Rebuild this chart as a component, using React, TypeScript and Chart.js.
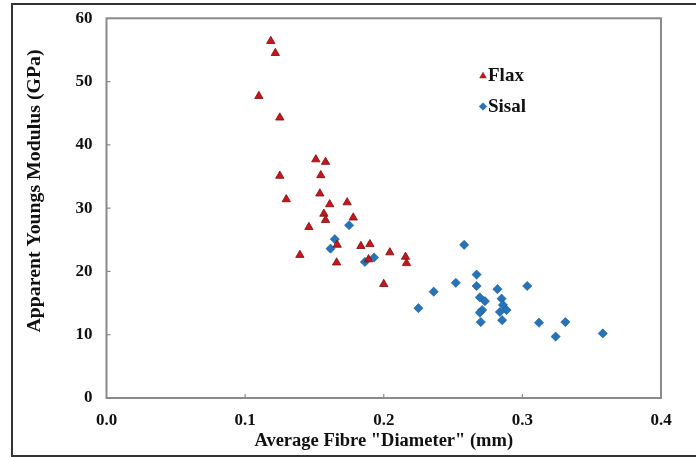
import React, { useEffect, useRef } from 'react';
import { Chart, registerables } from 'chart.js';
import { drawPoint } from 'chart.js/helpers';

Chart.register(...registerables);

// Flax fibres: diameter (mm) and apparent Young's modulus (GPa)
const flaxX = [0.1185, 0.1218, 0.1099, 0.125, 0.125, 0.1297, 0.151, 0.158, 0.1546, 0.1539, 0.161, 0.1736, 0.1568, 0.158, 0.178, 0.146, 0.1395, 0.1664, 0.166, 0.1835, 0.19, 0.189, 0.2044, 0.2157, 0.2164, 0.2];
const flaxY = [56.4, 54.5, 47.7, 44.3, 35.1, 31.4, 37.7, 37.3, 35.2, 32.3, 30.6, 30.9, 29.1, 28.1, 28.5, 27.0, 22.6, 24.2, 21.4, 24.0, 24.3, 21.9, 23.0, 22.3, 21.3, 18.0];

// Sisal fibres
const sisalX = [0.175, 0.1647, 0.1616, 0.1864, 0.193, 0.258, 0.267, 0.267, 0.252, 0.236, 0.225, 0.282, 0.3035, 0.2693, 0.273, 0.271, 0.2693, 0.27, 0.285, 0.286, 0.2886, 0.2838, 0.2854, 0.312, 0.331, 0.324, 0.358];
const sisalY = [27.3, 25.1, 23.6, 21.5, 22.2, 24.2, 19.5, 17.7, 18.2, 16.8, 14.2, 17.2, 17.7, 15.9, 15.3, 13.9, 13.5, 12.0, 15.7, 14.7, 13.9, 13.6, 12.3, 11.9, 12.0, 9.7, 10.2];

const seriesNames = ['Flax', 'Sisal'];
const xTickValues = [0, 0.1, 0.2, 0.3, 0.4];
const yTickValues = [0, 10, 20, 30, 40, 50, 60];
const xTitle = 'Average Fibre "Diameter" (mm)';
const yTitle = 'Apparent Youngs Modulus (GPa)';

const SERIF = '"Liberation Serif", "Times New Roman", serif';

const framePlugin = {
  id: 'plotFrame',
  beforeDatasetsDraw(chart: any) {
    const { ctx, chartArea } = chart;
    const { left, top, right, bottom } = chartArea;
    ctx.save();
    ctx.strokeStyle = '#8a8a8a';
    ctx.lineWidth = 2;
    ctx.strokeRect(left, top, right - left, bottom - top);
    ctx.lineWidth = 1.2;
    const xs = chart.scales.x;
    const ys = chart.scales.y;
    xs.ticks.forEach((t: any) => {
      if (t.value <= xs.min || t.value >= xs.max) return;
      const px = xs.getPixelForValue(t.value);
      ctx.beginPath();
      ctx.moveTo(px, bottom);
      ctx.lineTo(px, bottom - 4);
      ctx.stroke();
    });
    ys.ticks.forEach((t: any) => {
      if (t.value <= ys.min || t.value >= ys.max) return;
      const py = ys.getPixelForValue(t.value);
      ctx.beginPath();
      ctx.moveTo(left, py);
      ctx.lineTo(left + 4, py);
      ctx.stroke();
    });
    ctx.restore();
  },
};

const yTitlePlugin = {
  id: 'yTitleStretched',
  afterDraw(chart: any) {
    const { ctx } = chart;
    ctx.save();
    ctx.translate(35, 191);
    ctx.rotate(-Math.PI / 2);
    ctx.scale(1.1, 1);
    ctx.font = `bold 18px ${SERIF}`;
    ctx.fillStyle = '#111';
    ctx.textAlign = 'center';
    ctx.textBaseline = 'middle';
    ctx.fillText(yTitle, 0, 0);
    ctx.restore();
  },
};

const legendPlugin = {
  id: 'innerLegend',
  afterDatasetsDraw(chart: any) {
    const { ctx } = chart;
    ctx.save();
    chart.data.datasets.forEach((ds: any, i: number) => {
      const x = 483;
      const y = 76 + i * 30.5;
      ctx.fillStyle = ds.backgroundColor;
      ctx.strokeStyle = ds.borderColor;
      ctx.lineWidth = 0.5;
      drawPoint(ctx, { pointStyle: ds.pointStyle, radius: 3.8, borderWidth: 0.5, rotation: 0 } as any, x, y);
      ctx.fillStyle = '#111';
      ctx.font = `bold 19px ${SERIF}`;
      ctx.textBaseline = 'middle';
      ctx.textAlign = 'left';
      ctx.fillText(ds.label, 488, y + 0.5);
    });
    ctx.restore();
  },
};

export default function App() {
  const ref = useRef<HTMLCanvasElement | null>(null);

  useEffect(() => {
    if (!ref.current) return;
    const toPoints = (xs: number[], ys: number[]) => xs.map((x, i) => ({ x, y: ys[i] }));
    const chart = new Chart(ref.current, {
      type: 'scatter',
      data: {
        datasets: [
          {
            label: seriesNames[0],
            data: toPoints(flaxX, flaxY),
            pointStyle: 'triangle',
            backgroundColor: '#C4161C',
            borderColor: '#7d0d0d',
            borderWidth: 0.8,
            pointRadius: 4.8,
          },
          {
            label: seriesNames[1],
            data: toPoints(sisalX, sisalY),
            pointStyle: 'rectRot',
            backgroundColor: '#2573B8',
            borderColor: '#1b5b96',
            borderWidth: 0.6,
            pointRadius: 4.6,
          },
        ],
      },
      options: {
        animation: false,
        responsive: false,
        devicePixelRatio: 1,
        layout: { padding: { left: 0, right: 35, top: 18.3, bottom: 0 } },
        plugins: {
          legend: { display: false },
          tooltip: { enabled: false },
        },
        scales: {
          x: {
            type: 'linear',
            min: 0,
            max: 0.4,
            afterBuildTicks: (scale: any) => {
              scale.ticks = xTickValues.map((v) => ({ value: v }));
            },
            afterFit: (scale: any) => {
              scale.height = 59;
              scale.paddingLeft = 0;
              scale.paddingRight = 0;
            },
            grid: { display: false, drawTicks: false },
            border: { display: false },
            ticks: {
              padding: 12,
              color: '#111',
              font: { family: SERIF, size: 17, weight: 'bold' },
              callback: (v: any) => Number(v).toFixed(1),
              maxRotation: 0,
            },
            title: {
              display: true,
              text: xTitle,
              color: '#111',
              font: { family: SERIF, size: 18.5, weight: 'bold' },
              padding: { top: 0, bottom: 4.5 },
            },
          },
          y: {
            type: 'linear',
            min: 0,
            max: 60,
            afterBuildTicks: (scale: any) => {
              scale.ticks = yTickValues.map((v) => ({ value: v }));
            },
            afterFit: (scale: any) => {
              scale.width = 106.5;
              scale.paddingTop = 0;
              scale.paddingBottom = 0;
            },
            grid: { display: false, drawTicks: false },
            border: { display: false },
            ticks: {
              padding: 14,
              color: '#111',
              font: { family: SERIF, size: 17, weight: 'bold' },
              callback: (v: any) => String(v),
            },
            title: { display: false, text: yTitle },
          },
        },
      },
      plugins: [framePlugin, legendPlugin, yTitlePlugin],
    });
    return () => chart.destroy();
  }, []);

  return (
    <div style={{ position: 'fixed', left: 0, top: 0, width: 696, height: 457, background: '#fff', overflow: 'hidden' }}>
      <div
        style={{
          position: 'absolute',
          left: 11,
          top: 3,
          width: 700,
          height: 454,
          boxSizing: 'border-box',
          border: '2px solid #333',
        }}
      />
      <canvas ref={ref} width={696} height={457} style={{ position: 'absolute', left: 0, top: 0, width: 696, height: 457 }} />
    </div>
  );
}
